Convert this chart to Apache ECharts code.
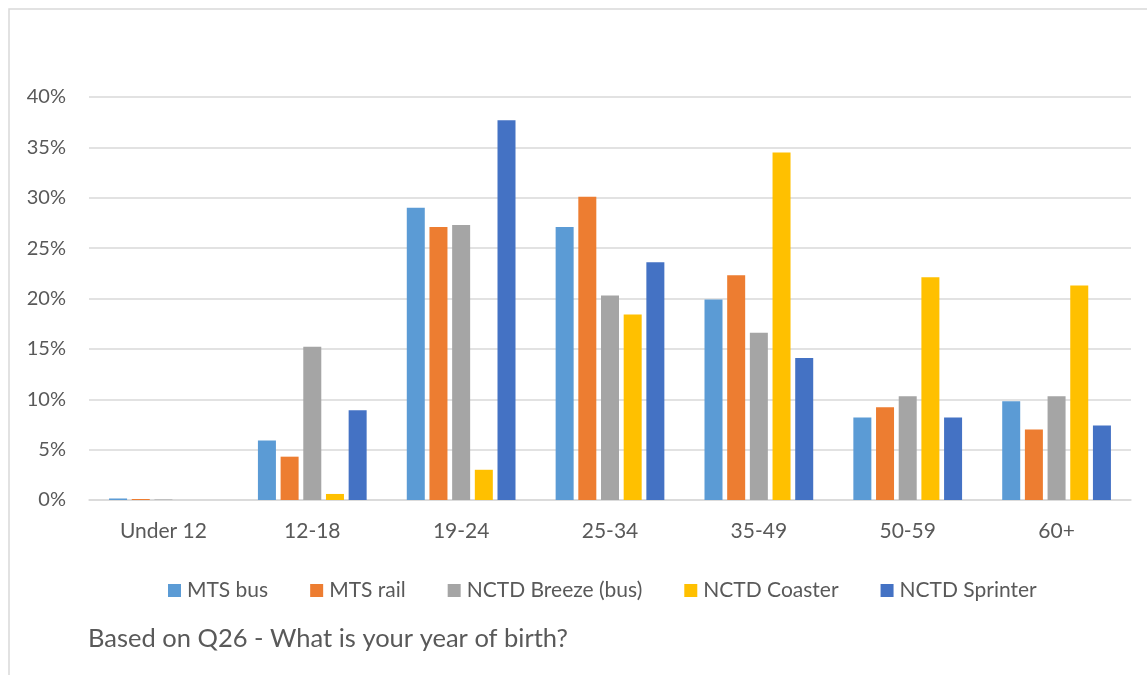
<!DOCTYPE html>
<html lang="en">
<head>
  <meta charset="UTF-8">
  <title>year of birth</title>
  <style>
    html,
    body,
    #main {
      margin: 0;
      padding: 0;
      background: #fff;
    }

    #main {
      width: 1147px;
      height: 675px;
    }
  </style>
</head>
<body>
  <div id="main"></div>
  <script src="https://cdn.jsdelivr.net/npm/echarts@6/dist/echarts.min.js"></script>
  <script>
    const ageGroups = ['Under 12', '12-18', '19-24', '25-34', '35-49', '50-59', '60+'];
    const seriesNames = ['MTS bus', 'MTS rail', 'NCTD Breeze (bus)', 'NCTD Coaster', 'NCTD Sprinter'];
    const colors = ['#5b9bd5', '#ed7d31', '#a5a5a5', '#ffc000', '#4472c4'];

    // percent of riders per age group
    const mtsBus = [0.15, 5.9, 29.0, 27.1, 19.9, 8.2, 9.8];
    const mtsRail = [0.1, 4.3, 27.1, 30.1, 22.3, 9.2, 7.0];
    const breeze = [0.05, 15.2, 27.3, 20.3, 16.6, 10.3, 10.3];
    const coaster = [0, 0.6, 3.0, 18.4, 34.5, 22.1, 21.3];
    const sprinter = [0, 8.9, 37.7, 23.6, 14.1, 8.2, 7.4];

    const yTicks = [0, 5, 10, 15, 20, 25, 30, 35, 40];
    const note = 'Based on Q26 - What is your year of birth?';

    const font = 'Lato, "Open Sans", sans-serif';
    const allValues = [mtsBus, mtsRail, breeze, coaster, sprinter];

    const myChart = echarts.init(document.getElementById('main'));
    const option = {
      color: colors,
      animation: false,
      textStyle: { fontFamily: font },
      graphic: [{
        type: 'polyline',
        shape: { points: [[9, 700], [9, 9], [1160, 9]] },
        style: { stroke: '#d9d9d9', lineWidth: 1.5, fill: null }
      }, {
        type: 'text',
        left: 88,
        top: 626,
        style: { text: note, fill: '#595959', font: '25.5px ' + font }
      }],
      grid: {
        left: 89,
        right: 16,
        top: 97,
        bottom: 175
      },
      legend: {
        top: 575,
        left: 163,
        itemWidth: 13,
        itemHeight: 13,
        itemGap: 42,
        icon: 'rect',
        textStyle: { color: '#595959', fontSize: 21, fontFamily: font, padding: [0, 0, 0, 1] },
        data: seriesNames
      },
      xAxis: {
        type: 'category',
        data: ageGroups,
        axisTick: { show: false },
        axisLine: { lineStyle: { color: '#d9d9d9', width: 1.5 } },
        axisLabel: { color: '#595959', fontSize: 21, margin: 21 }
      },
      yAxis: {
        type: 'value',
        min: yTicks[0],
        max: yTicks[yTicks.length - 1],
        interval: 5,
        axisLabel: { color: '#595959', fontSize: 20, formatter: '{value}%', margin: 23 },
        splitLine: { lineStyle: { color: '#d9d9d9', width: 1.5 } },
        axisLine: { show: false },
        axisTick: { show: false }
      },
      series: seriesNames.map((name, i) => ({
        name: name,
        type: 'bar',
        data: allValues[i],
        barWidth: 18,
        barGap: '26%'
      }))
    };

    myChart.setOption(option);
  </script>
</body>
</html>
